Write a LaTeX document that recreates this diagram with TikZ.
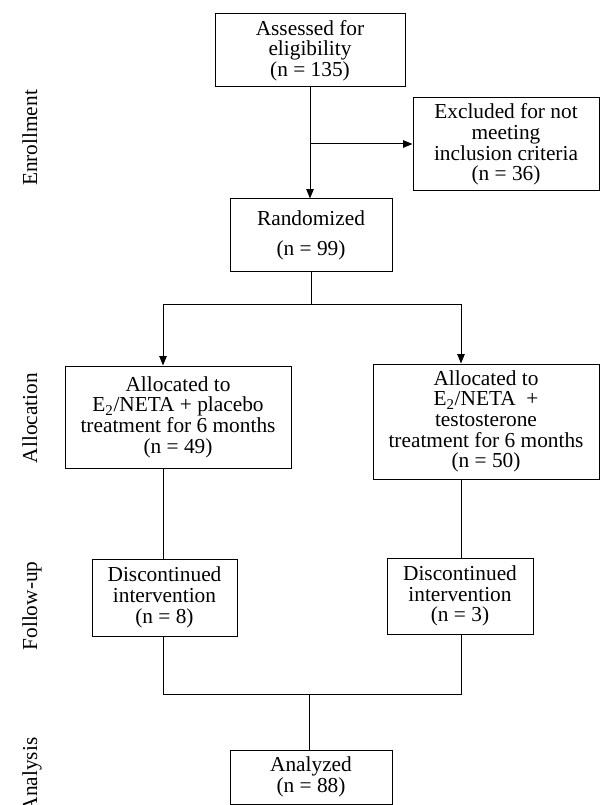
\documentclass[tikz,border=0pt]{standalone}
\usepackage{fontspec}
\setmainfont{Liberation Serif}
\usetikzlibrary{arrows.meta}
\tikzset{
  bx/.style 2 args={draw, line width=0.75pt, inner sep=0pt, align=center,
    minimum width=#1*0.75pt, minimum height=#2*0.75pt,
    font=\fontsize{16}{15.5}\selectfont},
  conn/.style={line width=0.75pt},
  arr/.style={line width=0.75pt, -{Triangle[length=7pt,width=5.5pt]}},
  side/.style={rotate=90, anchor=base, inner sep=0pt, font=\fontsize{16}{16}\selectfont}
}
\begin{document}
\begin{tikzpicture}[x=0.75pt,y=-0.75pt]
\useasboundingbox (0,0) rectangle (600,805);
% side labels
\node[side] (enr) at (37,138) {Enrollment};
\node[side] (allo) at (37,418) {Allocation};
\node[side] (fol) at (37,606) {Follow-up};
\node[side] (ana) at (37,775) {Analysis};
% boxes
\node[bx={190}{73}] (assess) at (310,50.5) {Assessed for\\eligibility\\(n = 135)};
\node[bx={186}{93}] (excl) at (506,144.5) {Excluded for not\\meeting\\inclusion criteria\\(n = 36)};
\node[bx={162}{72}] (rand) at (311,235) {Randomized\\[7pt](n = 99)};
\node[bx={226}{102}] (allocL) at (178,417) {Allocated to\\E\textsubscript{2}/NETA + placebo\\treatment for 6 months\\(n = 49)};
\node[bx={226}{115}] (allocR) at (486,421.5) {Allocated to\\E\textsubscript{2}/NETA\ \ +\\testosterone\\treatment for 6 months\\(n = 50)};
\node[bx={145}{77}] (discL) at (164.5,597.5) {Discontinued\\intervention\\(n = 8)};
\node[bx={146}{76}] (discR) at (460,596) {Discontinued\\intervention\\(n = 3)};
\node[bx={162}{54}] (anal) at (311,777) {Analyzed\\(n = 88)};
% connectors
\coordinate (br) at (310,144);
\draw[arr] (assess.south) -- (assess.south |- rand.north);
\draw[arr] (br) -- (br -| excl.west);
\coordinate (split) at (311,304);
\coordinate (splitL) at (163,304);
\coordinate (splitR) at (461,304);
\draw[conn] (rand.south) -- (split);
\draw[conn] (splitL) -- (splitR);
\draw[arr] (splitL) -- (splitL |- allocL.north);
\draw[arr] (splitR) -- (splitR |- allocR.north);
\draw[conn] (splitL |- allocL.south) -- (splitL |- discL.north);
\draw[conn] (splitR |- allocR.south) -- (splitR |- discR.north);
\coordinate (mergeL) at (163,694);
\coordinate (mergeR) at (461,694);
\coordinate (mergeC) at (309,694);
\draw[conn] (splitL |- discL.south) -- (mergeL) -- (mergeR) -- (splitR |- discR.south);
\draw[conn] (mergeC) -- (mergeC |- anal.north);
\end{tikzpicture}
\end{document}
